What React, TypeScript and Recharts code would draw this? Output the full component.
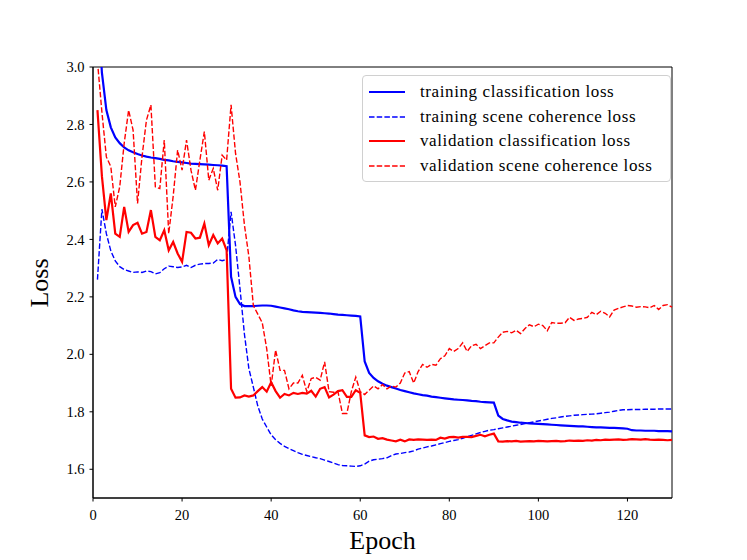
import { LineChart, Line, XAxis, YAxis, ReferenceArea } from "recharts"

// per-epoch values, epochs 1..130
const trainCls = [
  3.25, 2.98, 2.85, 2.79, 2.755, 2.735, 2.72, 2.71, 2.703, 2.697,
  2.692, 2.688, 2.685, 2.683, 2.68, 2.677, 2.675, 2.672, 2.67, 2.668,
  2.666, 2.664, 2.663, 2.662, 2.661, 2.66, 2.659, 2.658, 2.657, 2.655,
  2.27, 2.2, 2.175, 2.168, 2.168, 2.168, 2.169, 2.17, 2.17, 2.169,
  2.166, 2.163, 2.16, 2.157, 2.153, 2.15, 2.148, 2.147, 2.146, 2.145,
  2.144, 2.143, 2.142, 2.14, 2.138, 2.137, 2.136, 2.135, 2.134, 2.132,
  1.975, 1.935, 1.918, 1.906, 1.898, 1.891, 1.886, 1.881, 1.876, 1.872,
  1.868, 1.864, 1.861, 1.858, 1.856, 1.853, 1.851, 1.849, 1.847, 1.845,
  1.843, 1.842, 1.841, 1.84, 1.838, 1.837, 1.835, 1.834, 1.833, 1.832,
  1.787, 1.775, 1.77, 1.766, 1.764, 1.762, 1.761, 1.76, 1.759, 1.758,
  1.757, 1.756, 1.755, 1.754, 1.753, 1.752, 1.751, 1.75, 1.749, 1.749,
  1.748, 1.747, 1.746, 1.746, 1.745, 1.744, 1.744, 1.743, 1.742, 1.741,
  1.736, 1.735, 1.735, 1.734, 1.734, 1.734, 1.733, 1.733, 1.733, 1.732,
]

const trainScene = [
  2.26, 2.505, 2.42, 2.36, 2.325, 2.305, 2.295, 2.29, 2.285, 2.287,
  2.285, 2.29, 2.288, 2.28, 2.284, 2.298, 2.307, 2.305, 2.302, 2.304,
  2.31, 2.302, 2.31, 2.314, 2.316, 2.316, 2.318, 2.33, 2.326, 2.33,
  2.496, 2.38, 2.23, 2.07, 1.95, 1.886, 1.82, 1.775, 1.747, 1.72,
  1.703, 1.69, 1.68, 1.672, 1.665, 1.658, 1.652, 1.648, 1.644, 1.64,
  1.637, 1.632, 1.627, 1.622, 1.616, 1.613, 1.612, 1.611, 1.61, 1.612,
  1.618, 1.628, 1.633, 1.635, 1.637, 1.64, 1.648, 1.653, 1.655, 1.658,
  1.66, 1.664, 1.67, 1.674, 1.678, 1.681, 1.685, 1.689, 1.693, 1.697,
  1.7, 1.703, 1.708, 1.713, 1.718, 1.723, 1.728, 1.732, 1.736, 1.738,
  1.741, 1.744, 1.747, 1.75, 1.753, 1.756, 1.759, 1.762, 1.765, 1.768,
  1.771, 1.774, 1.777, 1.779, 1.782, 1.784, 1.786, 1.788, 1.789, 1.79,
  1.791, 1.792, 1.793, 1.795, 1.797, 1.799, 1.802, 1.805, 1.807, 1.807,
  1.808, 1.808, 1.808, 1.809, 1.809, 1.809, 1.81, 1.81, 1.81, 1.81,
]

const valCls = [
  2.85, 2.62, 2.467, 2.56, 2.42, 2.409, 2.513, 2.426, 2.45, 2.458,
  2.42, 2.426, 2.502, 2.409, 2.397, 2.432, 2.362, 2.391, 2.351, 2.322,
  2.426, 2.423, 2.403, 2.406, 2.455, 2.38, 2.415, 2.386, 2.403, 2.362,
  1.88, 1.849, 1.85, 1.857, 1.853, 1.857, 1.872, 1.886, 1.87, 1.903,
  1.872, 1.849, 1.862, 1.857, 1.866, 1.862, 1.866, 1.863, 1.873, 1.853,
  1.88, 1.886, 1.85, 1.86, 1.872, 1.875, 1.852, 1.852, 1.875, 1.866,
  1.718, 1.712, 1.714, 1.706, 1.708, 1.703, 1.7, 1.697, 1.703, 1.697,
  1.704, 1.702, 1.704, 1.703, 1.702, 1.703, 1.702, 1.71, 1.707, 1.712,
  1.713, 1.71, 1.713, 1.713, 1.712, 1.716, 1.72, 1.715, 1.72, 1.724,
  1.697, 1.696, 1.698, 1.697, 1.699, 1.696, 1.697, 1.698, 1.697, 1.699,
  1.698, 1.697, 1.698, 1.699, 1.697, 1.698, 1.7, 1.699, 1.7, 1.699,
  1.701, 1.7, 1.702, 1.701, 1.703, 1.702, 1.703, 1.704, 1.702, 1.703,
  1.705, 1.704, 1.703, 1.705, 1.703, 1.702, 1.703, 1.702, 1.701, 1.702,
]

const valScene = [
  3.02, 2.843, 2.687, 2.653, 2.513, 2.583, 2.734, 2.85, 2.78, 2.525,
  2.687, 2.815, 2.868, 2.583, 2.577, 2.746, 2.42, 2.55, 2.711, 2.641,
  2.746, 2.641, 2.571, 2.676, 2.775, 2.606, 2.647, 2.571, 2.693, 2.676,
  2.868, 2.7, 2.6, 2.45, 2.34, 2.17, 2.14, 2.11, 2.02, 1.89,
  2.015, 1.944, 1.944, 1.88, 1.9, 1.9, 1.927, 1.87, 1.916, 1.92,
  1.91, 1.974, 1.87, 1.868, 1.87, 1.794, 1.794, 1.87, 1.921, 1.87,
  1.86, 1.875, 1.89, 1.88, 1.895, 1.88, 1.89, 1.886, 1.9, 1.935,
  1.94, 1.9, 1.94, 1.965, 1.955, 1.965, 1.962, 1.985, 1.995, 2.02,
  2.01, 2.02, 2.04, 2.01, 2.03, 2.035, 2.02, 2.03, 2.04, 2.04,
  2.06, 2.077, 2.08, 2.075, 2.084, 2.072, 2.09, 2.103, 2.096, 2.105,
  2.1, 2.082, 2.111, 2.108, 2.108, 2.11, 2.129, 2.118, 2.123, 2.125,
  2.129, 2.146, 2.138, 2.15, 2.143, 2.13, 2.154, 2.16, 2.165, 2.17,
  2.168, 2.164, 2.166, 2.165, 2.162, 2.17, 2.156, 2.17, 2.173, 2.164,
]

const xTicks = [0, 20, 40, 60, 80, 100, 120]
const yTicks = [1.6, 1.8, 2.0, 2.2, 2.4, 2.6, 2.8, 3.0]

const series = [
  { key: "trainCls", name: "training classification loss", color: "#0000ff", dashed: false },
  { key: "trainScene", name: "training scene coherence loss", color: "#0000ff", dashed: true },
  { key: "valCls", name: "validation classification loss", color: "#ff0000", dashed: false },
  { key: "valScene", name: "validation scene coherence loss", color: "#ff0000", dashed: true },
]

const rows = trainCls.map((v, i) => ({
  epoch: i + 1,
  trainCls: v,
  trainScene: trainScene[i],
  valCls: valCls[i],
  valScene: valScene[i],
}))

const FONT = "'Liberation Serif', 'Times New Roman', serif"

// legend drawn as an overlay so it doesn't eat into the plot area
function LegendBox() {
  return (
    <div
      style={{
        position: "absolute",
        left: 362,
        top: 75,
        width: 309,
        height: 107,
        boxSizing: "border-box",
        border: "1px solid #d0d0d0",
        borderRadius: 4,
        background: "rgba(255,255,255,0.85)",
        padding: "4px 0 0 6px",
        fontFamily: FONT,
        fontSize: 17,
        letterSpacing: 0.6,
        color: "#000",
      }}
    >
      {series.map((s) => (
        <div key={s.key} style={{ display: "flex", alignItems: "center", height: 24.5 }}>
          <svg width={38} height={10} style={{ marginRight: 13, flexShrink: 0 }}>
            <line
              x1={0}
              y1={5}
              x2={36}
              y2={5}
              stroke={s.color}
              strokeWidth={s.dashed ? 1.4 : 2.2}
              strokeDasharray={s.dashed ? "5.5 2.2" : undefined}
            />
          </svg>
          <span style={{ whiteSpace: "nowrap" }}>{s.name}</span>
        </div>
      ))}
    </div>
  )
}

export default function App() {
  return (
    <div style={{ position: "absolute", left: 0, top: 0, width: 747, height: 560, background: "#fff" }}>
      <LineChart width={747} height={560} data={rows} margin={{ top: 67, right: 75, left: 0, bottom: 0 }}>
        <XAxis
          dataKey="epoch"
          type="number"
          domain={[0, 130]}
          ticks={xTicks}
          height={62}
          tickSize={3.5}
          tickMargin={8}
          stroke="#000"
          tick={{ fill: "#000", fontSize: 14.5, fontFamily: FONT }}
          label={{ value: "Epoch", position: "insideBottom", offset: 11, fill: "#000", fontSize: 26, fontFamily: FONT }}
        />
        <YAxis
          type="number"
          domain={[1.5, 3.0]}
          allowDataOverflow
          ticks={yTicks}
          width={93}
          tickSize={3.5}
          tickMargin={5}
          stroke="#000"
          tickFormatter={(v: number) => v.toFixed(1)}
          tick={{ fill: "#000", fontSize: 14.5, fontFamily: FONT }}
        />
        <ReferenceArea x1={0} x2={130} y1={1.5} y2={3.0} fill="none" stroke="#000" strokeWidth={1} />
        {series.map((s) => (
          <Line
            key={s.key}
            dataKey={s.key}
            name={s.name}
            type="linear"
            stroke={s.color}
            strokeWidth={s.dashed ? 1.4 : 2.2}
            strokeDasharray={s.dashed ? "5.5 2.2" : undefined}
            dot={false}
            activeDot={false}
            isAnimationActive={false}
          />
        ))}
        <text
          transform="translate(48, 283) rotate(-90)"
          textAnchor="middle"
          fontSize={26}
          fontFamily={FONT}
          fill="#000"
        >
          Loss
        </text>
      </LineChart>
      <LegendBox />
    </div>
  )
}
